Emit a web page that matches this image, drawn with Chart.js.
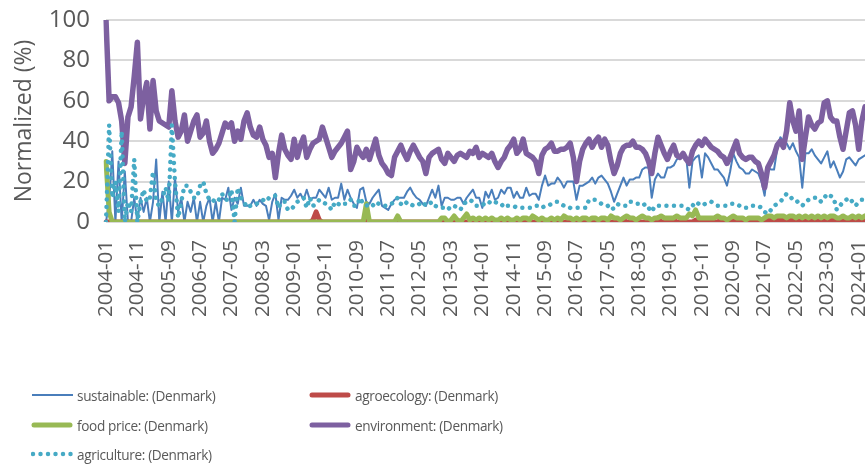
<!DOCTYPE html>
<html lang="en">
<head>
    <meta charset="UTF-8">
    <title>Normalized interest - Denmark</title>
    <script src="https://cdn.jsdelivr.net/npm/chart.js"></script>
    <style>
        html, body { margin: 0; padding: 0; background: #ffffff; }
        body { width: 865px; height: 466px; position: relative; overflow: hidden; font-family: 'Open Sans', sans-serif; }
        #wrap { position: absolute; left: 0; top: 0; width: 865px; height: 466px; }
        #legend { position: absolute; left: 0; top: 0; width: 865px; height: 466px; pointer-events: none; }
        .item { position: absolute; display: flex; align-items: center; height: 20px; color: #595959; font-size: 13.6px; letter-spacing: -0.35px; white-space: nowrap; }
        .item svg { display: block; margin-right: 1px; }
    </style>
</head>
<body>
<div id="wrap"><canvas id="chart"></canvas></div>
<div id="legend"></div>
<script>
// monthly categories, 2004-01 .. 2024-03
const firstYear = 2004;
const monthCount = 243;
const months = [];
for (let i = 0; i < monthCount; i++) {
    const y = firstYear + Math.floor(i / 12);
    const m = (i % 12) + 1;
    months.push(y + '-' + String(m).padStart(2, '0'));
}
const labelEvery = 10; // every 10th month gets a tick label
const yTicks = [0, 20, 40, 60, 80, 100];

const sustainable = [
    0, 10, 35, 0, 30, 0, 25, 0, 0, 12, 0, 12,
    5, 12, 0, 10, 31, 0, 15, 0, 20, 0, 22, 5,
    12, 0, 10, 5, 12, 0, 10, 0, 8, 12, 0, 10,
    0, 12, 11, 17, 6, 12, 9, 17, 8, 8, 8, 11,
    8, 11, 9, 8, 1, 10, 14, 1, 12, 11, 11, 13,
    16, 12, 14, 11, 16, 11, 12, 12, 16, 14, 12, 17,
    11, 12, 12, 19, 11, 16, 12, 9, 7, 16, 17, 10,
    9, 12, 14, 16, 8, 7, 6, 9, 11, 12, 12, 12,
    15, 17, 14, 12, 11, 9, 8, 12, 16, 12, 18, 8,
    12, 12, 11, 11, 12, 12, 9, 12, 14, 16, 12, 12,
    7, 15, 12, 16, 11, 12, 16, 14, 17, 17, 12, 15,
    12, 12, 17, 13, 14, 14, 11, 18, 23, 18, 19, 19,
    22, 20, 17, 20, 20, 20, 11, 18, 18, 19, 20, 22,
    19, 22, 23, 21, 19, 15, 10, 14, 18, 22, 18, 21,
    21, 22, 22, 26, 27, 27, 12, 21, 24, 22, 22, 27,
    27, 28, 31, 32, 32, 32, 17, 30, 32, 33, 22, 34,
    32, 29, 26, 26, 24, 22, 18, 25, 34, 30, 27, 26,
    24, 24, 26, 25, 24, 20, 13, 27, 26, 26, 36, 42,
    40, 39, 36, 39, 35, 32, 17, 34, 34, 36, 33, 31,
    29, 32, 35, 27, 30, 26, 22, 25, 31, 32, 30, 28,
    31, 32, 33
];

const agroecology = [
    0, 0, 0, 0, 0, 0, 0, 0, 0, 0, 0, 0,
    0, 0, 0, 0, 0, 0, 0, 0, 0, 0, 0, 0,
    0, 0, 0, 0, 0, 0, 0, 0, 0, 0, 0, 0,
    0, 0, 0, 0, 0, 0, 0, 0, 0, 0, 0, 0,
    0, 0, 0, 0, 0, 0, 0, 0, 0, 0, 0, 0,
    0, 0, 0, 0, 0, 0, 1, 5, 1, 0, 0, 0,
    0, 0, 0, 0, 0, 0, 0, 0, 0, 0, 0, 1,
    0, 0, 0, 0, 0, 0, 0, 0, 0, 0, 0, 0,
    0, 0, 0, 0, 0, 0, 0, 0, 0, 0, 0, 0,
    0, 0, 0, 0, 1, 0, 0, 0, 0, 0, 0, 0,
    0, 0, 0, 0, 0, 0, 0, 0, 0, 0, 0, 1,
    0, 0, 0, 0, 0, 0, 0, 0, 0, 0, 1, 0,
    0, 0, 0, 0, 0, 0, 0, 0, 0, 0, 0, 0,
    0, 0, 1, 0, 0, 0, 0, 0, 0, 1, 0, 0,
    0, 0, 0, 0, 0, 0, 0, 0, 2, 0, 0, 0,
    0, 1, 0, 0, 0, 0, 0, 0, 1, 0, 0, 0,
    1, 0, 0, 0, 1, 0, 0, 0, 1, 0, 0, 0,
    0, 0, 0, 0, 0, 0, 1, 1, 1, 1, 1, 1,
    1, 1, 1, 1, 1, 1, 1, 1, 1, 1, 1, 1,
    1, 1, 1, 1, 1, 1, 1, 1, 1, 1, 1, 1,
    1, 1, 1
];

const foodPrice = [
    30, 5, 0, 0, 0, 0, 0, 0, 0, 0, 0, 0,
    0, 0, 0, 0, 0, 0, 0, 0, 0, 0, 0, 0,
    0, 0, 0, 0, 0, 0, 0, 0, 0, 0, 0, 0,
    0, 0, 0, 0, 0, 0, 0, 0, 0, 0, 0, 0,
    0, 0, 0, 0, 0, 0, 0, 0, 0, 0, 0, 0,
    0, 0, 0, 0, 0, 0, 0, 0, 0, 0, 0, 0,
    0, 0, 0, 0, 0, 0, 0, 0, 0, 0, 0, 9,
    0, 0, 0, 0, 0, 0, 0, 0, 0, 3, 0, 0,
    0, 0, 0, 0, 0, 0, 0, 0, 0, 0, 0, 2,
    2, 0, 1, 3, 1, 0, 2, 4, 1, 2, 1, 2,
    1, 2, 1, 2, 1, 1, 2, 1, 2, 1, 1, 2,
    1, 2, 2, 1, 3, 2, 1, 2, 1, 1, 2, 1,
    2, 1, 3, 2, 2, 1, 2, 1, 2, 2, 1, 2,
    2, 1, 2, 2, 1, 3, 2, 2, 1, 2, 3, 2,
    2, 1, 2, 3, 2, 2, 1, 2, 2, 3, 2, 2,
    2, 2, 3, 2, 2, 2, 4, 3, 6, 2, 2, 2,
    2, 2, 2, 3, 2, 2, 1, 2, 3, 2, 2, 2,
    1, 2, 2, 2, 2, 1, 2, 3, 3, 2, 3, 3,
    3, 2, 3, 3, 2, 3, 2, 3, 2, 3, 2, 3,
    2, 3, 2, 3, 3, 2, 2, 3, 2, 2, 3, 2,
    3, 2, 3
];

const environment = [
    100, 60, 62, 62, 59, 50, 29, 52, 57, 72, 89, 51,
    62, 69, 46, 70, 55, 50, 49, 48, 47, 65, 50, 42,
    45, 53, 40, 45, 50, 53, 42, 44, 50, 40, 34, 36,
    39, 44, 49, 47, 49, 40, 45, 41, 50, 54, 47, 43,
    42, 47, 41, 38, 32, 34, 22, 34, 43, 36, 33, 31,
    41, 32, 38, 42, 32, 36, 39, 40, 41, 47, 42, 37,
    32, 35, 37, 39, 42, 45, 26, 30, 37, 34, 32, 36,
    31, 36, 41, 33, 29, 27, 24, 23, 32, 35, 38, 34,
    31, 35, 38, 35, 32, 30, 24, 32, 34, 35, 36, 31,
    29, 34, 32, 30, 33, 34, 33, 32, 35, 34, 37, 32,
    34, 33, 32, 34, 30, 27, 30, 32, 36, 38, 41, 34,
    36, 41, 34, 33, 32, 30, 24, 33, 36, 37, 39, 35,
    35, 36, 36, 37, 39, 32, 20, 30, 36, 39, 41, 37,
    40, 42, 37, 41, 38, 30, 24, 28, 34, 37, 38, 38,
    40, 37, 37, 36, 34, 30, 24, 34, 42, 38, 34, 31,
    35, 38, 33, 32, 34, 31, 29, 35, 38, 40, 38, 41,
    39, 37, 36, 35, 33, 32, 29, 32, 36, 40, 34, 32,
    31, 32, 32, 30, 29, 24, 17, 27, 30, 33, 38, 40,
    37, 45, 59, 50, 45, 55, 31, 42, 52, 48, 46, 49,
    50, 59, 60, 52, 50, 50, 42, 36, 45, 54, 55, 48,
    36, 50, 57
];

const agriculture = [
    0, 48, 12, 20, 5, 45, 0, 10, 5, 31, 0, 10,
    16, 10, 12, 25, 10, 8, 12, 17, 10, 48, 20, 2,
    10, 18, 18, 15, 12, 12, 18, 20, 14, 11, 10, 12,
    11, 14, 11, 11, 16, 0, 17, 12, 10, 7, 8, 9,
    9, 10, 11, 10, 12, 13, 13, 7, 10, 10, 6, 6,
    8, 10, 11, 12, 7, 12, 8, 9, 11, 10, 9, 8,
    6, 10, 9, 8, 9, 9, 11, 8, 8, 12, 9, 8,
    9, 8, 10, 9, 8, 8, 8, 9, 10, 12, 9, 8,
    10, 9, 8, 8, 9, 10, 8, 9, 10, 8, 7, 7,
    7, 6, 8, 8, 7, 6, 9, 10, 11, 10, 8, 8,
    8, 10, 10, 9, 10, 9, 9, 7, 8, 8, 8, 7,
    7, 7, 7, 7, 7, 8, 8, 7, 8, 8, 9, 10,
    10, 9, 8, 8, 7, 7, 7, 7, 7, 7, 11, 11,
    11, 10, 9, 8, 8, 6, 7, 9, 8, 8, 8, 10,
    10, 9, 9, 8, 9, 7, 5, 8, 8, 8, 8, 8,
    8, 8, 8, 8, 8, 7, 6, 8, 10, 9, 8, 9,
    9, 10, 9, 8, 8, 8, 8, 9, 9, 9, 8, 8,
    7, 7, 8, 8, 8, 7, 5, 4, 6, 8, 9, 10,
    12, 14, 13, 11, 11, 9, 8, 10, 11, 11, 12, 12,
    10, 12, 14, 13, 12, 6, 8, 10, 11, 12, 10, 8,
    10, 11, 11
];

const seriesNames = [
    'sustainable: (Denmark)',
    'agroecology: (Denmark)',
    'food price: (Denmark)',
    'environment: (Denmark)',
    'agriculture: (Denmark)'
];

// legend slots (left x, centre y) - two columns like the original
const legendSlots = [[31, 395], [309, 395], [31, 425], [309, 425], [31, 454]];

const textGrey = '#595959';
const fontFamily = "'Open Sans', sans-serif";

function lineSet(label, data, color, width, order, dash) {
    return {
        label: label,
        data: data,
        borderColor: color,
        backgroundColor: color,
        borderWidth: width,
        borderDash: dash || [],
        borderCapStyle: 'round',
        borderJoinStyle: 'round',
        pointRadius: 0,
        tension: 0,
        fill: false,
        order: order
    };
}

const chart = new Chart(document.getElementById('chart'), {
    type: 'line',
    data: {
        labels: months,
        datasets: [
            lineSet(seriesNames[0], sustainable, '#4a7ebb', 2, 5),
            lineSet(seriesNames[1], agroecology, '#be4b48', 5, 4),
            lineSet(seriesNames[2], foodPrice, '#98b954', 5, 3),
            lineSet(seriesNames[3], environment, '#7d60a0', 5.5, 2),
            lineSet(seriesNames[4], agriculture, '#46aac5', 4.5, 1, [0.01, 7.5])
        ]
    },
    options: {
        responsive: true,
        maintainAspectRatio: false,
        animation: false,
        layout: { padding: { top: 20, left: 0, right: 0, bottom: 0 } },
        plugins: {
            legend: { display: false },
            tooltip: { enabled: false }
        },
        scales: {
            x: {
                grid: { display: false, drawTicks: false },
                border: { display: false },
                ticks: {
                    autoSkip: false,
                    minRotation: 90,
                    maxRotation: 90,
                    padding: 18,
                    color: textGrey,
                    font: { family: fontFamily, size: 20.5 },
                    callback: function(value, index) {
                        return index % labelEvery === 0 ? this.getLabelForValue(value) : null;
                    }
                },
                afterFit: function(scale) {
                    scale.height = 244;
                    scale.paddingLeft = 0;
                    scale.paddingRight = 0;
                }
            },
            y: {
                min: yTicks[0],
                max: yTicks[yTicks.length - 1],
                grid: { color: '#d9d9d9', lineWidth: 2, drawTicks: false },
                border: { display: false },
                ticks: {
                    stepSize: 20,
                    padding: 16,
                    color: textGrey,
                    font: { family: fontFamily, size: 24 }
                },
                title: {
                    display: true,
                    text: 'Normalized (%)',
                    color: textGrey,
                    padding: { top: 11, bottom: 0 },
                    font: { family: fontFamily, size: 23 }
                },
                afterFit: function(scale) {
                    scale.width = 106;
                    scale.paddingTop = 0;
                    scale.paddingBottom = 0;
                }
            }
        }
    }
});

// html legend in the two-column arrangement of the original
const legendBox = document.getElementById('legend');
chart.data.datasets.forEach(function(ds, k) {
    const slot = legendSlots[k];
    const item = document.createElement('div');
    item.className = 'item';
    item.style.left = slot[0] + 'px';
    item.style.top = (slot[1] - 10) + 'px';
    const dotted = ds.borderDash.length > 0;
    let stroke;
    if (dotted) {
        stroke = '<line x1="2" y1="10" x2="41" y2="10" stroke="' + ds.borderColor + '" stroke-width="' + ds.borderWidth +
            '" stroke-linecap="round" stroke-dasharray="0 ' + ds.borderDash[1] + '"/>';
    } else if (ds.borderWidth < 3) {
        stroke = '<line x1="1" y1="10" x2="42" y2="10" stroke="' + ds.borderColor + '" stroke-width="' + ds.borderWidth + '"/>';
    } else {
        stroke = '<line x1="3" y1="10" x2="39" y2="10" stroke="' + ds.borderColor + '" stroke-width="5" stroke-linecap="round"/>';
    }
    item.innerHTML = '<svg width="45" height="20">' + stroke + '</svg><span>' + ds.label + '</span>';
    legendBox.appendChild(item);
});
</script>
</body>
</html>
